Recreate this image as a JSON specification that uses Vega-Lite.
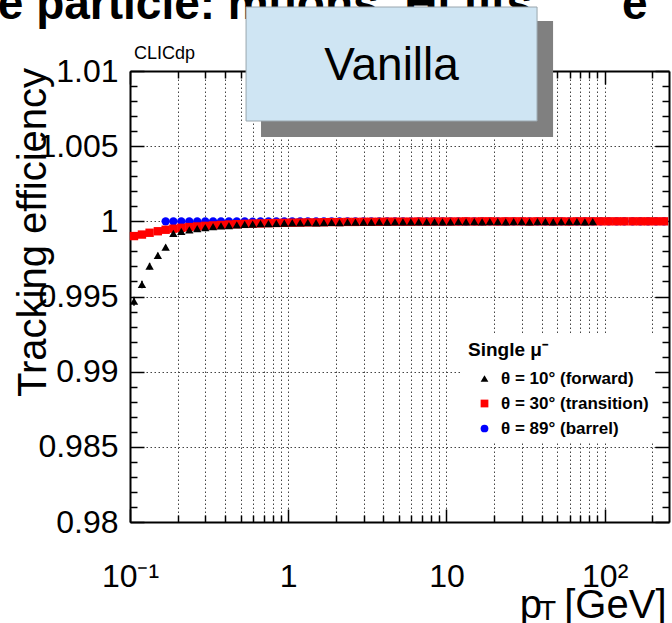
{
  "$schema": "https://vega.github.io/schema/vega-lite/v6.json",
  "width": 539,
  "height": 451,
  "autosize": {"type": "none"},
  "padding": {"left": 130, "top": 71, "right": 3, "bottom": 101},
  "background": "white",
  "config": {"font": "Liberation Sans", "view": {"stroke": null}},
  "datasets": {
    "pts": [
      {"s":"b","x":0.168,"y":1.0},{"s":"b","x":0.188,"y":1.0},{"s":"b","x":0.211,"y":1.0},{"s":"b","x":0.237,"y":1.0},{"s":"b","x":0.266,"y":0.99999},{"s":"b","x":0.299,"y":1.0},{"s":"b","x":0.335,"y":1.0},{"s":"b","x":0.376,"y":0.99999},{"s":"b","x":0.422,"y":1.0},{"s":"b","x":0.473,"y":0.99999},{"s":"b","x":0.531,"y":1.0},{"s":"b","x":0.596,"y":0.99998},{"s":"b","x":0.668,"y":1.0},{"s":"b","x":0.75,"y":0.99999},{"s":"b","x":0.841,"y":1.0},{"s":"b","x":0.944,"y":0.99999},
      {"s":"b","x":1.06,"y":1.0},{"s":"b","x":1.19,"y":0.99999},{"s":"b","x":1.33,"y":1.0},{"s":"b","x":1.5,"y":1.0},{"s":"b","x":1.68,"y":0.99999},{"s":"b","x":1.88,"y":1.0},{"s":"b","x":2.11,"y":1.0},{"s":"b","x":2.37,"y":0.99999},{"s":"b","x":2.66,"y":1.0},{"s":"b","x":2.99,"y":1.0},{"s":"b","x":3.35,"y":0.99999},{"s":"b","x":3.76,"y":1.0},{"s":"b","x":4.22,"y":1.0},{"s":"b","x":4.73,"y":1.0},{"s":"b","x":5.31,"y":0.99999},{"s":"b","x":5.96,"y":1.0},{"s":"b","x":6.68,"y":1.0},{"s":"b","x":7.5,"y":1.0},{"s":"b","x":8.41,"y":1.0},{"s":"b","x":9.44,"y":0.99999},
      {"s":"b","x":10.6,"y":1.0},{"s":"b","x":11.9,"y":1.0},{"s":"b","x":13.3,"y":1.0},{"s":"b","x":15.0,"y":1.0},{"s":"b","x":16.8,"y":1.0},{"s":"b","x":18.8,"y":1.0},{"s":"b","x":21.1,"y":1.0},{"s":"b","x":23.7,"y":1.0},{"s":"b","x":26.6,"y":1.0},{"s":"b","x":29.9,"y":1.0},{"s":"b","x":33.5,"y":1.0},{"s":"b","x":37.6,"y":1.0},{"s":"b","x":42.2,"y":1.0},{"s":"b","x":47.3,"y":1.0},{"s":"b","x":53.1,"y":1.0},{"s":"b","x":59.6,"y":1.0},{"s":"b","x":66.8,"y":1.0},{"s":"b","x":75.0,"y":1.0},{"s":"b","x":84.1,"y":1.0},{"s":"b","x":94.4,"y":1.0},
      {"s":"b","x":106,"y":1.0},{"s":"b","x":119,"y":1.0},{"s":"b","x":133,"y":1.0},{"s":"b","x":150,"y":1.0},{"s":"b","x":168,"y":1.0},{"s":"b","x":188,"y":1.0},{"s":"b","x":211,"y":1.0},{"s":"b","x":237,"y":1.0},

      {"s":"t","x":0.106,"y":0.99902,"e":0.00008},{"s":"t","x":0.119,"y":0.99912,"e":0.00008},{"s":"t","x":0.133,"y":0.99924,"e":0.00007},{"s":"t","x":0.15,"y":0.99934,"e":0.00007},{"s":"t","x":0.168,"y":0.99944,"e":0.00006},{"s":"t","x":0.188,"y":0.99951,"e":0.00006},{"s":"t","x":0.211,"y":0.99957,"e":0.00005},{"s":"t","x":0.237,"y":0.99962,"e":0.00005},{"s":"t","x":0.266,"y":0.99966},{"s":"t","x":0.299,"y":0.9997},{"s":"t","x":0.335,"y":0.99973},{"s":"t","x":0.376,"y":0.99976},{"s":"t","x":0.422,"y":0.99979},{"s":"t","x":0.473,"y":0.99981},{"s":"t","x":0.531,"y":0.99983},{"s":"t","x":0.596,"y":0.99985},{"s":"t","x":0.668,"y":0.99986},{"s":"t","x":0.75,"y":0.99988},{"s":"t","x":0.841,"y":0.99989},{"s":"t","x":0.944,"y":0.9999},
      {"s":"t","x":1.06,"y":0.99991},{"s":"t","x":1.19,"y":0.99992},{"s":"t","x":1.33,"y":0.99993},{"s":"t","x":1.5,"y":0.99993},{"s":"t","x":1.68,"y":0.99994},{"s":"t","x":1.88,"y":0.99995},{"s":"t","x":2.11,"y":0.99995},{"s":"t","x":2.37,"y":0.99996},{"s":"t","x":2.66,"y":0.99996},{"s":"t","x":2.99,"y":0.99997},{"s":"t","x":3.35,"y":0.99997},{"s":"t","x":3.76,"y":0.99997},{"s":"t","x":4.22,"y":0.99998},{"s":"t","x":4.73,"y":0.99998},{"s":"t","x":5.31,"y":0.99998},{"s":"t","x":5.96,"y":0.99998},{"s":"t","x":6.68,"y":0.99999},{"s":"t","x":7.5,"y":0.99998},{"s":"t","x":8.41,"y":0.99999},{"s":"t","x":9.44,"y":0.99999},
      {"s":"t","x":10.6,"y":0.99999},{"s":"t","x":11.9,"y":0.99999},{"s":"t","x":13.3,"y":1.0},{"s":"t","x":15.0,"y":0.99999},{"s":"t","x":16.8,"y":1.0},{"s":"t","x":18.8,"y":1.0},{"s":"t","x":21.1,"y":0.99999},{"s":"t","x":23.7,"y":1.0},{"s":"t","x":26.6,"y":1.0},{"s":"t","x":29.9,"y":1.0},{"s":"t","x":33.5,"y":0.99999},{"s":"t","x":37.6,"y":1.0},{"s":"t","x":42.2,"y":1.0},{"s":"t","x":47.3,"y":1.0},{"s":"t","x":53.1,"y":1.0},{"s":"t","x":59.6,"y":0.99999},{"s":"t","x":66.8,"y":1.0},{"s":"t","x":75.0,"y":1.0},{"s":"t","x":84.1,"y":1.0},{"s":"t","x":94.4,"y":1.0},
      {"s":"t","x":106,"y":1.0},{"s":"t","x":119,"y":1.0},{"s":"t","x":133,"y":1.0},{"s":"t","x":150,"y":1.0},{"s":"t","x":168,"y":1.0},{"s":"t","x":188,"y":1.0},{"s":"t","x":211,"y":1.0},{"s":"t","x":237,"y":1.0},

      {"s":"f","x":0.106,"y":0.99469,"e":0.0003},{"s":"f","x":0.119,"y":0.9958,"e":0.00025},{"s":"f","x":0.133,"y":0.99702,"e":0.00022},{"s":"f","x":0.15,"y":0.99773,"e":0.00018},{"s":"f","x":0.168,"y":0.99829,"e":0.00015},{"s":"f","x":0.188,"y":0.9992,"e":0.0001},{"s":"f","x":0.211,"y":0.99933,"e":0.00009},{"s":"f","x":0.237,"y":0.99943,"e":0.00008},{"s":"f","x":0.266,"y":0.99951,"e":0.00008},{"s":"f","x":0.299,"y":0.99958,"e":0.00007},{"s":"f","x":0.335,"y":0.99964,"e":0.00007},{"s":"f","x":0.376,"y":0.99969,"e":0.00006},{"s":"f","x":0.422,"y":0.99972},{"s":"f","x":0.473,"y":0.99976},{"s":"f","x":0.531,"y":0.99979},{"s":"f","x":0.596,"y":0.99981},{"s":"f","x":0.668,"y":0.99984},{"s":"f","x":0.75,"y":0.99985},{"s":"f","x":0.841,"y":0.99987},{"s":"f","x":0.944,"y":0.99988},
      {"s":"f","x":1.06,"y":0.99989},{"s":"f","x":1.19,"y":0.9999},{"s":"f","x":1.33,"y":0.99991},{"s":"f","x":1.5,"y":0.9999},{"s":"f","x":1.68,"y":0.99992},{"s":"f","x":1.88,"y":0.99993},{"s":"f","x":2.11,"y":0.99992},{"s":"f","x":2.37,"y":0.99994},{"s":"f","x":2.66,"y":0.99995},{"s":"f","x":2.99,"y":0.99994},{"s":"f","x":3.35,"y":0.99995},{"s":"f","x":3.76,"y":0.99996},{"s":"f","x":4.22,"y":0.99995},{"s":"f","x":4.73,"y":0.99996},{"s":"f","x":5.31,"y":0.99996},{"s":"f","x":5.96,"y":0.99997},{"s":"f","x":6.68,"y":0.99996},{"s":"f","x":7.5,"y":0.99997},{"s":"f","x":8.41,"y":0.99996},{"s":"f","x":9.44,"y":0.99997},
      {"s":"f","x":10.6,"y":0.99997},{"s":"f","x":11.9,"y":0.99998},{"s":"f","x":13.3,"y":0.99997},{"s":"f","x":15.0,"y":0.99998},{"s":"f","x":16.8,"y":0.99997},{"s":"f","x":18.8,"y":0.99998},{"s":"f","x":21.1,"y":0.99998},{"s":"f","x":23.7,"y":0.99997},{"s":"f","x":26.6,"y":0.99998},{"s":"f","x":29.9,"y":0.99998},{"s":"f","x":33.5,"y":0.99997},{"s":"f","x":37.6,"y":0.99998},{"s":"f","x":42.2,"y":0.99998},{"s":"f","x":47.3,"y":0.99997},{"s":"f","x":53.1,"y":0.99998},{"s":"f","x":59.6,"y":0.99998},{"s":"f","x":66.8,"y":0.99998},{"s":"f","x":75.0,"y":0.99997},{"s":"f","x":84.1,"y":0.99998}
    ]
  },
  "layer": [
    {
      "data": {"name": "pts"},
      "transform": [{"filter": "isValid(datum.e)"}],
      "mark": {"type": "errorbar", "thickness": 1.5},
      "encoding": {
        "x": {"field": "x", "type": "quantitative", "scale": {"type": "log", "domain": [0.1, 255], "nice": false}, "axis": null},
        "y": {"field": "y", "type": "quantitative", "scale": {"domain": [0.98, 1.01], "nice": false, "zero": false}, "axis": null},
        "yError": {"field": "e"},
        "color": {"field": "s", "type": "nominal", "scale": {"domain": ["f", "t", "b"], "range": ["#000000", "#ff0000", "#0000ff"]}, "legend": null}
      }
    },
    {
      "data": {"name": "pts"},
      "mark": {"type": "point", "filled": true, "opacity": 1, "size": 70},
      "encoding": {
        "x": {"field": "x", "type": "quantitative", "scale": {"type": "log", "domain": [0.1, 255], "nice": false},
          "axis": {
            "orient": "bottom",
            "values": [0.1,0.2,0.3,0.4,0.5,0.6,0.7,0.8,0.9,1,2,3,4,5,6,7,8,9,10,20,30,40,50,60,70,80,90,100,200],
            "labelExpr": "datum.value==0.1?'10⁻¹':datum.value==1?'1':datum.value==10?'10':datum.value==100?'10²':''",
            "labelFont": "Liberation Sans", "labelFontSize": 32, "labelColor": "black", "labelPadding": 52,
            "labelFlush": false, "labelOverlap": false, "labelBound": false,
            "tickSize": {"condition": {"test": "datum.value==0.1||datum.value==1||datum.value==10||datum.value==100", "value": -13}, "value": -7},
            "tickColor": "black", "tickWidth": 1.5,
            "grid": true, "gridDash": [1.5, 2.5], "gridColor": "#444444", "gridWidth": 1,
            "domainColor": "black", "domainWidth": 2,
            "title": "p\u00a0\u00a0[GeV]", "titleFont": "Liberation Sans", "titleFontSize": 40, "titleFontWeight": "normal", "titleColor": "black",
            "titleAlign": "right", "titleBaseline": "alphabetic", "titleX": 536, "titleY": 95
          }
        },
        "y": {"field": "y", "type": "quantitative", "scale": {"domain": [0.98, 1.01], "nice": false, "zero": false},
          "axis": {
            "orient": "left",
            "values": [0.98,0.981,0.982,0.983,0.984,0.985,0.986,0.987,0.988,0.989,0.99,0.991,0.992,0.993,0.994,0.995,0.996,0.997,0.998,0.999,1,1.001,1.002,1.003,1.004,1.005,1.006,1.007,1.008,1.009,1.01],
            "labelExpr": "abs(datum.value*200-round(datum.value*200))<0.01 ? format(datum.value, '.3~f') : ''",
            "labelFont": "Liberation Sans", "labelFontSize": 32, "labelColor": "black", "labelPadding": 26,
            "labelOverlap": false, "labelFlush": false, "labelBound": false,
            "tickSize": {"condition": {"test": "abs(datum.value*200-round(datum.value*200))<0.01", "value": -14}, "value": -7},
            "tickColor": "black", "tickWidth": 1.5,
            "grid": true, "gridDash": [1.5, 2.5], "gridColor": "#444444", "gridWidth": 1,
            "gridOpacity": {"condition": {"test": "abs(datum.value*200-round(datum.value*200))<0.01", "value": 1}, "value": 0},
            "domainColor": "black", "domainWidth": 2,
            "title": "Tracking efficiency", "titleFont": "Liberation Sans", "titleFontSize": 40, "titleFontWeight": "normal", "titleColor": "black",
            "titleAngle": -90, "titleAlign": "center", "titleBaseline": "alphabetic", "titleX": -85, "titleY": 161
          }
        },
        "color": {"field": "s", "type": "nominal", "scale": {"domain": ["f", "t", "b"], "range": ["#000000", "#ff0000", "#0000ff"]},
          "legend": {
            "orient": "none", "legendX": 332, "legendY": 264,
            "title": "Single μ⁻", "titleFont": "Liberation Sans", "titleFontSize": 19, "titleFontWeight": "bold", "titleColor": "black", "titlePadding": 10,
            "labelExpr": "datum.label=='f'?'θ = 10° (forward)':datum.label=='t'?'θ = 30° (transition)':'θ = 89° (barrel)'",
            "labelFont": "Liberation Sans", "labelFontSize": 17, "labelFontWeight": "bold", "labelColor": "black",
            "symbolSize": 60, "symbolStrokeWidth": 0, "symbolOffset": 8, "labelOffset": 8,
            "fillColor": "white", "padding": 6, "rowPadding": 7
          }
        },
        "shape": {"field": "s", "type": "nominal", "scale": {"domain": ["f", "t", "b"], "range": ["triangle-up", "square", "circle"]},
          "legend": {
            "orient": "none", "legendX": 332, "legendY": 264,
            "title": "Single μ⁻", "titleFont": "Liberation Sans", "titleFontSize": 19, "titleFontWeight": "bold", "titleColor": "black", "titlePadding": 10,
            "labelExpr": "datum.label=='f'?'θ = 10° (forward)':datum.label=='t'?'θ = 30° (transition)':'θ = 89° (barrel)'",
            "labelFont": "Liberation Sans", "labelFontSize": 17, "labelFontWeight": "bold", "labelColor": "black",
            "symbolSize": 60, "symbolStrokeWidth": 0, "symbolOffset": 8, "labelOffset": 8,
            "fillColor": "white", "padding": 6, "rowPadding": 7
          }
        }
      }
    },
    {
      "data": {"values": [{}]},
      "mark": {"type": "text", "text": "CLICdp", "font": "Liberation Sans", "fontSize": 18, "align": "left", "baseline": "alphabetic", "color": "black"},
      "encoding": {
        "x": {"datum": 0.106, "type": "quantitative", "scale": {"type": "log", "domain": [0.1, 255], "nice": false},
          "axis": {
            "orient": "top",
            "values": [0.1,0.2,0.3,0.4,0.5,0.6,0.7,0.8,0.9,1,2,3,4,5,6,7,8,9,10,20,30,40,50,60,70,80,90,100,200],
            "labels": false, "grid": false, "title": null,
            "tickSize": {"condition": {"test": "datum.value==0.1||datum.value==1||datum.value==10||datum.value==100", "value": -13}, "value": -7},
            "tickColor": "black", "tickWidth": 1.5, "domainColor": "black", "domainWidth": 2
          }
        },
        "y": {"datum": 1.0108, "type": "quantitative", "scale": {"domain": [0.98, 1.01], "nice": false, "zero": false},
          "axis": {
            "orient": "right",
            "values": [0.98,0.981,0.982,0.983,0.984,0.985,0.986,0.987,0.988,0.989,0.99,0.991,0.992,0.993,0.994,0.995,0.996,0.997,0.998,0.999,1,1.001,1.002,1.003,1.004,1.005,1.006,1.007,1.008,1.009,1.01],
            "labels": false, "grid": false, "title": null,
            "tickSize": {"condition": {"test": "abs(datum.value*200-round(datum.value*200))<0.01", "value": -14}, "value": -7},
            "tickColor": "black", "tickWidth": 1.5, "domainColor": "black", "domainWidth": 2
          }
        }
      }
    },
    {
      "data": {"values": [{}]},
      "mark": {"type": "text", "text": "e particle: muons, Hi fits", "font": "Liberation Sans", "fontSize": 46, "fontWeight": "bold", "align": "left", "baseline": "alphabetic", "color": "black"},
      "encoding": {
        "x": {"datum": 0.0146, "type": "quantitative", "scale": {"type": "log", "domain": [0.1, 255], "nice": false}, "axis": null},
        "y": {"datum": 1.01346, "type": "quantitative", "scale": {"domain": [0.98, 1.01], "nice": false, "zero": false}, "axis": null}
      }
    },
    {
      "data": {"values": [{}]},
      "mark": {"type": "text", "text": "e", "font": "Liberation Sans", "fontSize": 46, "fontWeight": "bold", "align": "left", "baseline": "alphabetic", "color": "black"},
      "encoding": {
        "x": {"datum": 128.8, "type": "quantitative", "scale": {"type": "log", "domain": [0.1, 255], "nice": false}, "axis": null},
        "y": {"datum": 1.01346, "type": "quantitative", "scale": {"domain": [0.98, 1.01], "nice": false, "zero": false}, "axis": null}
      }
    },
    {
      "data": {"values": [{}]},
      "mark": {"type": "rect", "color": "#808080"},
      "encoding": {
        "x": {"datum": 0.6731, "type": "quantitative", "scale": {"type": "log", "domain": [0.1, 255], "nice": false}, "axis": null},
        "x2": {"datum": 47.19},
        "y": {"datum": 1.013326, "type": "quantitative", "scale": {"domain": [0.98, 1.01], "nice": false, "zero": false}, "axis": null},
        "y2": {"datum": 1.00561}
      }
    },
    {
      "data": {"values": [{}]},
      "mark": {"type": "rect", "fill": "#cfe5f3", "stroke": "#9aa6ae", "strokeWidth": 1},
      "encoding": {
        "x": {"datum": 0.5413, "type": "quantitative", "scale": {"type": "log", "domain": [0.1, 255], "nice": false}, "axis": null},
        "x2": {"datum": 37.38},
        "y": {"datum": 1.014257, "type": "quantitative", "scale": {"domain": [0.98, 1.01], "nice": false, "zero": false}, "axis": null},
        "y2": {"datum": 1.006674}
      }
    },
    {
      "data": {"values": [{}]},
      "mark": {"type": "text", "text": "Vanilla", "font": "Liberation Sans", "fontSize": 46, "align": "center", "baseline": "alphabetic", "color": "black"},
      "encoding": {
        "x": {"datum": 4.498, "type": "quantitative", "scale": {"type": "log", "domain": [0.1, 255], "nice": false}, "axis": null},
        "y": {"datum": 1.009401, "type": "quantitative", "scale": {"domain": [0.98, 1.01], "nice": false, "zero": false}, "axis": null}
      }
    },
    {
      "data": {"values": [{}]},
      "mark": {"type": "text", "text": "T", "font": "Liberation Sans", "fontSize": 28, "align": "left", "baseline": "alphabetic", "color": "black"},
      "encoding": {
        "x": {"datum": 38.5, "type": "quantitative", "scale": {"type": "log", "domain": [0.1, 255], "nice": false}, "axis": null},
        "y": {"datum": 0.97348, "type": "quantitative", "scale": {"domain": [0.98, 1.01], "nice": false, "zero": false}, "axis": null}
      }
    }
  ],
  "resolve": {"axis": {"x": "independent", "y": "independent"}, "legend": {"color": "independent", "shape": "independent"}}
}
